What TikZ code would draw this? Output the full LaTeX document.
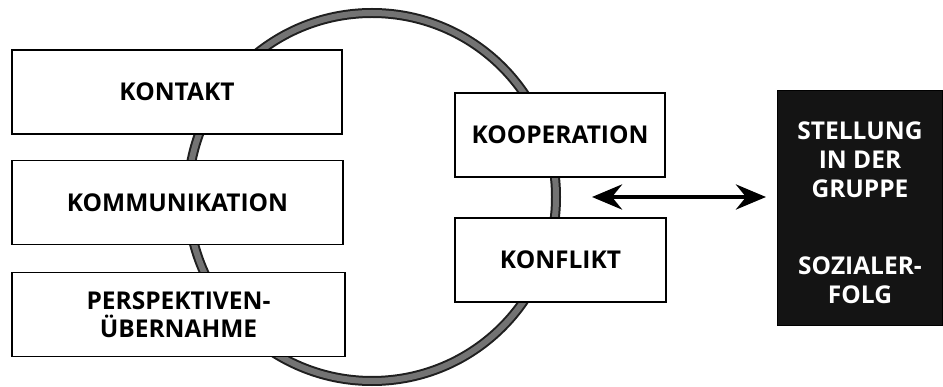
\documentclass[tikz,border=0pt]{standalone}
\usepackage{fontspec}
\setmainfont{Open Sans}
\usetikzlibrary{arrows.meta}
\tikzset{
  box/.style={draw=black, line width=1.4pt, fill=white, minimum width=#1,
    minimum height=84pt, inner sep=0pt, align=center,
    font=\bfseries\fontsize{24.5}{28}\selectfont},
  box/.default=330pt,
  darkbox/.style={fill=black!92, draw=black, minimum width=165pt, minimum height=235pt,
    inner sep=0pt},
  darktext/.style={inner sep=0pt, align=center, text=white,
    font=\bfseries\fontsize{24.5}{29}\selectfont},
  ring outer/.style={draw=black!88, line width=10pt},
  ring inner/.style={draw=black!55, line width=6pt},
  twoway/.style={line width=4.5pt, {Stealth[length=30pt,width=25pt,inset=10pt]}-{Stealth[length=30pt,width=25pt,inset=10pt]}}
}
\begin{document}
\begin{tikzpicture}[x=1pt,y=-1pt]
  \useasboundingbox (0,0) rectangle (943,387);
  % the ring behind the boxes
  \coordinate (c) at (372,197);
  \draw[ring outer] (c) circle[radius=184pt];
  \draw[ring inner] (c) circle[radius=184pt];
  % left column
  \node[box] (kontakt) at (177,92) {KONTAKT};
  \node[box=331pt] (komm) at (177.5,202.5) {KOMMUNIKATION};
  \node[box=333pt] (persp) at (178.5,314.5) {PERSPEKTIVEN-\\ÜBERNAHME};
  % right pair on the ring
  \node[box=210pt] (koop) at (560,135) {KOOPERATION};
  \node[box=211pt] (konf) at (560.5,260) {KONFLIKT};
  % outcome box and its lettering
  \node[darkbox] (erfolg) at (860,207.5) {};
  \node[darktext] (erfolgtext) at ([yshift=-5pt]erfolg.center)
    {STELLUNG\\IN DER\\GRUPPE\\[48pt]SOZIALER-\\FOLG};
  % two-way arrow between the pair and the outcome
  \coordinate (al) at (592,197);
  \coordinate (ar) at (766,197);
  \draw[twoway] (al) -- (ar);
\end{tikzpicture}
\end{document}
